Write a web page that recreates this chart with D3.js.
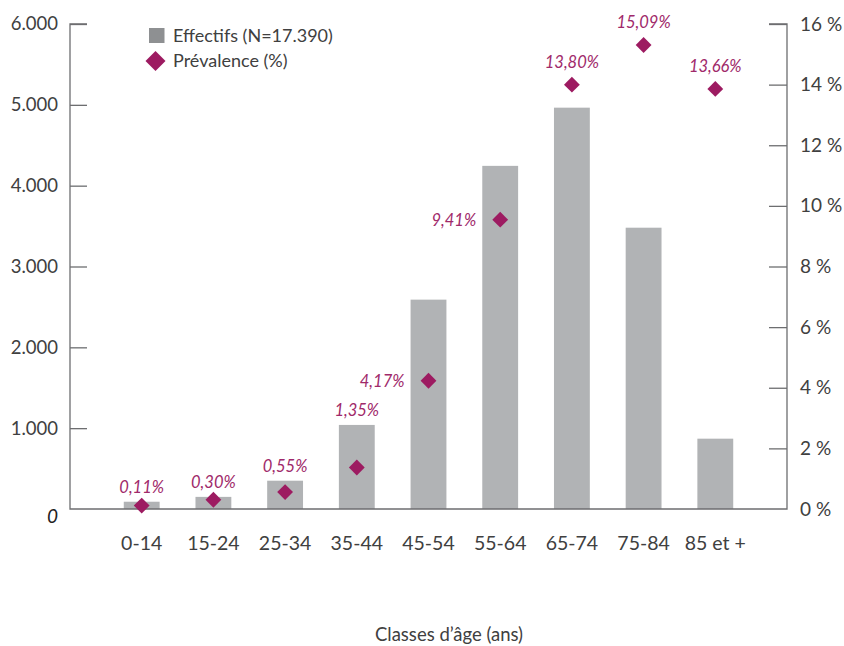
<!DOCTYPE html>
<html>
<head>
<meta charset="utf-8">
<script src="https://cdn.jsdelivr.net/npm/d3@7"></script>
<style>
  body { margin: 0; background: #fff; }
  svg text { font-family: Lato, "Noto Sans", sans-serif; }
</style>
</head>
<body>
<script>
// age classes and values
const classes = ["0-14", "15-24", "25-34", "35-44", "45-54", "55-64", "65-74", "75-84", "85 et +"];
const effectifs = [90, 150, 350, 1040, 2590, 4245, 4965, 3480, 870];
const prevalence = [0.11, 0.30, 0.55, 1.35, 4.17, 9.41, 13.80, 15.09, 13.66];
const labelsLeft = ["45-54", "55-64"]; // labels put beside the diamond
const leftTicks = [0, 1000, 2000, 3000, 4000, 5000, 6000];
const rightTicks = [0, 2, 4, 6, 8, 10, 12, 14, 16];

const W = 844, H = 646;
const xLeft = 70, xRight = 787, yBottom = 509, yTop = 24;

const svg = d3.select("body").append("svg")
    .attr("width", W)
    .attr("height", H);

const x = d3.scaleBand()
    .domain(classes)
    .range([xLeft, xRight])
    .paddingInner(0.5)
    .paddingOuter(0.75);

const y = d3.scaleLinear().domain([0, 6000]).range([yBottom, yTop]);
const y2 = d3.scaleLinear().domain([0, 16]).range([yBottom, yTop]);
// the diamonds in the original sit a little higher than the % axis
const yPrev = d3.scaleLinear().domain([0, 16]).range([yBottom, 17]);

const axisCol = "#6d6e70";
const textCol = "#404040";
const purple = "#9d1b61";
const fmtPct = v => d3.format(".2f")(v).replace(".", ",") + "%";

// bars
svg.selectAll("rect.bar")
    .data(classes).enter()
    .append("rect")
    .attr("class", "bar")
    .attr("x", d => x(d))
    .attr("width", x.bandwidth())
    .attr("y", (d, i) => y(effectifs[i]))
    .attr("height", (d, i) => yBottom - y(effectifs[i]))
    .attr("fill", "#b1b3b5");

// left axis (ticks point inward)
const yAxis = d3.axisRight(y)
    .tickValues(leftTicks)
    .tickSize(17)
    .tickFormat(d => d === 0 ? "0" : d3.format(",")(d).replace(",", "."));
const gl = svg.append("g")
    .attr("transform", "translate(" + xLeft + ",0)")
    .call(yAxis);
gl.select(".domain").remove();
gl.selectAll(".tick line").attr("stroke", axisCol).attr("stroke-width", 1.3)
    .filter(d => d === 0).remove();
gl.selectAll(".tick text")
    .attr("x", -12)
    .attr("text-anchor", "end")
    .attr("font-size", 18.5)
    .attr("fill", textCol)
    .filter(d => d === 0)
    .attr("font-style", "italic")
    .attr("font-size", 19)
    .attr("dy", "0.7em")
    .attr("fill", "#222");

// right axis (ticks point inward)
const y2Axis = d3.axisLeft(y2)
    .tickValues(rightTicks)
    .tickSize(18)
    .tickFormat(d => d + " %");
const gr = svg.append("g")
    .attr("transform", "translate(" + xRight + ",0)")
    .call(y2Axis);
gr.select(".domain").remove();
gr.selectAll(".tick line").attr("stroke", axisCol).attr("stroke-width", 1.3)
    .filter(d => d === 0).remove();
gr.selectAll(".tick text")
    .attr("x", 13)
    .attr("text-anchor", "start")
    .attr("font-size", 19)
    .attr("fill", textCol);

// axis lines
svg.append("path")
    .attr("d", d3.line()([[xLeft + 17, yTop], [xLeft, yTop], [xLeft, yBottom], [xRight, yBottom], [xRight, yTop], [xRight - 18, yTop]]))
    .attr("fill", "none")
    .attr("stroke", axisCol)
    .attr("stroke-width", 1.3);

// x labels
svg.selectAll("text.cat")
    .data(classes).enter()
    .append("text")
    .attr("class", "cat")
    .attr("x", d => x(d) + x.bandwidth() / 2)
    .attr("y", 550)
    .attr("text-anchor", "middle")
    .attr("font-size", 19.5)
    .attr("fill", textCol)
    .text(d => d);

// diamonds
const diamond = d3.symbol().type(d3.symbolSquare).size(125);
svg.selectAll("path.pt")
    .data(classes).enter()
    .append("path")
    .attr("class", "pt")
    .attr("d", diamond)
    .attr("transform", (d, i) => "translate(" + (x(d) + x.bandwidth() / 2) + "," + yPrev(prevalence[i]) + ") rotate(45)")
    .attr("fill", purple);

// value labels: above the higher of bar and diamond, or beside the diamond
function labelY(d, i) {
    const yd = yPrev(prevalence[i]);
    const yb = y(effectifs[i]);
    if (labelsLeft.includes(d)) return yd + 6;
    return yd < yb ? yd - 17 : yb - 9;
}
svg.selectAll("text.val")
    .data(classes).enter()
    .append("text")
    .attr("class", "val")
    .attr("x", d => x(d) + x.bandwidth() / 2 + (labelsLeft.includes(d) ? -24 : 0))
    .attr("y", labelY)
    .attr("text-anchor", d => labelsLeft.includes(d) ? "end" : "middle")
    .attr("font-size", 16.5)
    .attr("font-style", "italic")
    .attr("fill", "#a0296a")
    .text((d, i) => fmtPct(prevalence[i]));

// legend
const lg = svg.append("g").attr("transform", "translate(149,28)");
lg.append("rect").attr("width", 15.5).attr("height", 15).attr("fill", "#8e9092");
lg.append("text").attr("x", 24).attr("y", 14).attr("font-size", 18).attr("fill", textCol)
    .text("Effectifs (N=17.390)");
lg.append("path").attr("d", d3.symbol().type(d3.symbolSquare).size(200))
    .attr("transform", "translate(6.5,33) rotate(45)")
    .attr("fill", purple);
lg.append("text").attr("x", 24).attr("y", 39).attr("font-size", 18).attr("fill", textCol)
    .text("Prévalence (%)");

// x axis title
svg.append("text")
    .attr("x", 449)
    .attr("y", 641)
    .attr("text-anchor", "middle")
    .attr("font-size", 18.5)
    .attr("fill", textCol)
    .text("Classes d’âge (ans)");
</script>
</body>
</html>
